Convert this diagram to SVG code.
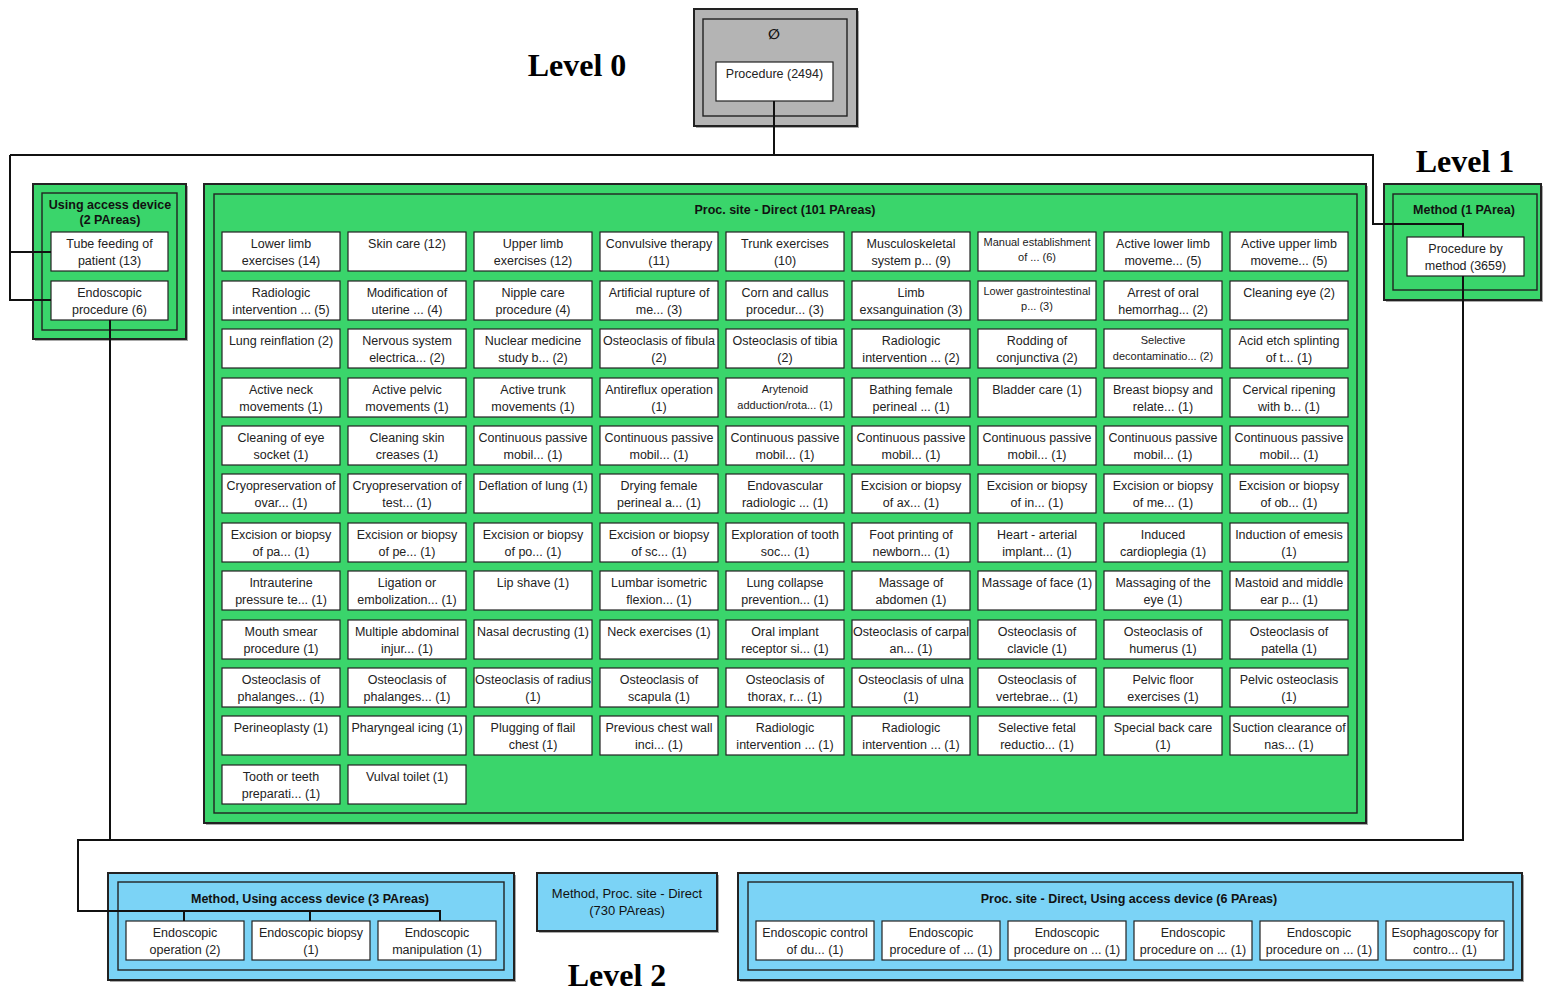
<svg xmlns="http://www.w3.org/2000/svg" width="1543" height="992" viewBox="0 0 1543 992">
<style>
  .bg{fill:#ffffff}
  .shadow{fill:#a9a9a9}
  .gray{fill:#b4b4b4;stroke:#222;stroke-width:2}
  .green{fill:#3ad56b;stroke:#222;stroke-width:2}
  .blue{fill:#7bd3f6;stroke:#222;stroke-width:2}
  .inner{fill:none;stroke:#222;stroke-width:1.4}
  .node rect{fill:#fff;stroke:#222;stroke-width:1.2}
  .node text{font-family:"Liberation Sans",Arial,sans-serif;font-size:12.5px;fill:#222;text-anchor:middle}
  .node text.s{font-size:11px}
  .ttl{font-family:"Liberation Sans",Arial,sans-serif;font-size:12.5px;font-weight:bold;fill:#111;text-anchor:middle}
  .plain{font-family:"Liberation Sans",Arial,sans-serif;font-size:13px;fill:#111;text-anchor:middle}
  .sym{font-family:"DejaVu Sans",sans-serif;font-size:14px;font-weight:bold;fill:#111;text-anchor:middle}
  .lvl{font-family:"Liberation Serif","Times New Roman",serif;font-size:32px;font-weight:bold;fill:#000;text-anchor:middle}
  .wire{fill:none;stroke:#111;stroke-width:2}
</style>
<rect class="bg" x="0" y="0" width="1543" height="992"/>

<!-- level captions -->
<text class="lvl" x="577" y="76">Level 0</text>
<text class="lvl" x="1465" y="172">Level 1</text>
<text class="lvl" x="617" y="986">Level 2</text>

<!-- Level 0: root area -->
<g id="root-area">
  <rect class="shadow" x="696" y="11" width="163" height="117"/>
  <rect class="gray" x="694" y="9" width="163" height="117"/>
  <rect class="inner" x="703" y="19" width="144" height="97"/>
  <text class="sym" x="774" y="39">∅</text>
  <g class="node" id="n-procedure"><rect x="716" y="62" width="117" height="39"/><text x="774.5" y="78">Procedure (2494)</text></g>
</g>

<!-- Level 1: Using access device -->
<g id="area-access">
  <rect class="shadow" x="35" y="186" width="153" height="155"/>
  <rect class="green" x="33" y="184" width="153" height="155"/>
  <rect class="inner" x="42" y="193" width="135" height="137"/>
  <text class="ttl" x="110" y="209">Using access device</text>
  <text class="ttl" x="110" y="224">(2 PAreas)</text>
  <g class="node" id="n-tube-feeding"><rect x="51" y="232" width="117" height="39"/><text x="109.5" y="248">Tube feeding of<tspan x="109.5" dy="16.5">patient (13)</tspan></text></g>
  <g class="node" id="n-endoscopic-procedure"><rect x="51" y="281" width="117" height="39"/><text x="109.5" y="297">Endoscopic<tspan x="109.5" dy="16.5">procedure (6)</tspan></text></g>
</g>

<!-- Level 1: Method -->
<g id="area-method">
  <rect class="shadow" x="1386" y="186" width="157" height="116"/>
  <rect class="green" x="1384" y="184" width="157" height="116"/>
  <rect class="inner" x="1393" y="194" width="144" height="96"/>
  <text class="ttl" x="1464" y="214">Method (1 PArea)</text>
  <g class="node" id="n-procedure-by-method"><rect x="1407" y="237" width="117" height="39"/><text x="1465.5" y="253">Procedure by<tspan x="1465.5" dy="16.5">method (3659)</tspan></text></g>
</g>

<!-- Level 1: Proc. site - Direct -->
<g id="area-site">
  <rect class="shadow" x="206" y="186" width="1162" height="639"/>
  <rect class="green" x="204" y="184" width="1162" height="639"/>
  <rect class="inner" x="214" y="194" width="1143" height="619"/>
  <text class="ttl" x="785" y="214">Proc. site - Direct (101 PAreas)</text>

  <!-- row 1 -->
  <g class="node" id="s1"><rect x="222" y="232" width="118" height="39"/><text x="281" y="248">Lower limb<tspan x="281" dy="16.5">exercises (14)</tspan></text></g>
  <g class="node" id="s2"><rect x="348" y="232" width="118" height="39"/><text x="407" y="248">Skin care (12)</text></g>
  <g class="node" id="s3"><rect x="474" y="232" width="118" height="39"/><text x="533" y="248">Upper limb<tspan x="533" dy="16.5">exercises (12)</tspan></text></g>
  <g class="node" id="s4"><rect x="600" y="232" width="118" height="39"/><text x="659" y="248">Convulsive therapy<tspan x="659" dy="16.5">(11)</tspan></text></g>
  <g class="node" id="s5"><rect x="726" y="232" width="118" height="39"/><text x="785" y="248">Trunk exercises<tspan x="785" dy="16.5">(10)</tspan></text></g>
  <g class="node" id="s6"><rect x="852" y="232" width="118" height="39"/><text x="911" y="248">Musculoskeletal<tspan x="911" dy="16.5">system p... (9)</tspan></text></g>
  <g class="node" id="s7"><rect x="978" y="232" width="118" height="39"/><text class="s" x="1037" y="246">Manual establishment<tspan x="1037" dy="15">of ... (6)</tspan></text></g>
  <g class="node" id="s8"><rect x="1104" y="232" width="118" height="39"/><text x="1163" y="248">Active lower limb<tspan x="1163" dy="16.5">moveme... (5)</tspan></text></g>
  <g class="node" id="s9"><rect x="1230" y="232" width="118" height="39"/><text x="1289" y="248">Active upper limb<tspan x="1289" dy="16.5">moveme... (5)</tspan></text></g>

  <!-- row 2 -->
  <g class="node" id="s10"><rect x="222" y="281" width="118" height="39"/><text x="281" y="297">Radiologic<tspan x="281" dy="16.5">intervention ... (5)</tspan></text></g>
  <g class="node" id="s11"><rect x="348" y="281" width="118" height="39"/><text x="407" y="297">Modification of<tspan x="407" dy="16.5">uterine ... (4)</tspan></text></g>
  <g class="node" id="s12"><rect x="474" y="281" width="118" height="39"/><text x="533" y="297">Nipple care<tspan x="533" dy="16.5">procedure (4)</tspan></text></g>
  <g class="node" id="s13"><rect x="600" y="281" width="118" height="39"/><text x="659" y="297">Artificial rupture of<tspan x="659" dy="16.5">me... (3)</tspan></text></g>
  <g class="node" id="s14"><rect x="726" y="281" width="118" height="39"/><text x="785" y="297">Corn and callus<tspan x="785" dy="16.5">procedur... (3)</tspan></text></g>
  <g class="node" id="s15"><rect x="852" y="281" width="118" height="39"/><text x="911" y="297">Limb<tspan x="911" dy="16.5">exsanguination (3)</tspan></text></g>
  <g class="node" id="s16"><rect x="978" y="281" width="118" height="39"/><text class="s" x="1037" y="295">Lower gastrointestinal<tspan x="1037" dy="15">p... (3)</tspan></text></g>
  <g class="node" id="s17"><rect x="1104" y="281" width="118" height="39"/><text x="1163" y="297">Arrest of oral<tspan x="1163" dy="16.5">hemorrhag... (2)</tspan></text></g>
  <g class="node" id="s18"><rect x="1230" y="281" width="118" height="39"/><text x="1289" y="297">Cleaning eye (2)</text></g>

  <!-- row 3 -->
  <g class="node" id="s19"><rect x="222" y="329" width="118" height="39"/><text x="281" y="345">Lung reinflation (2)</text></g>
  <g class="node" id="s20"><rect x="348" y="329" width="118" height="39"/><text x="407" y="345">Nervous system<tspan x="407" dy="16.5">electrica... (2)</tspan></text></g>
  <g class="node" id="s21"><rect x="474" y="329" width="118" height="39"/><text x="533" y="345">Nuclear medicine<tspan x="533" dy="16.5">study b... (2)</tspan></text></g>
  <g class="node" id="s22"><rect x="600" y="329" width="118" height="39"/><text x="659" y="345">Osteoclasis of fibula<tspan x="659" dy="16.5">(2)</tspan></text></g>
  <g class="node" id="s23"><rect x="726" y="329" width="118" height="39"/><text x="785" y="345">Osteoclasis of tibia<tspan x="785" dy="16.5">(2)</tspan></text></g>
  <g class="node" id="s24"><rect x="852" y="329" width="118" height="39"/><text x="911" y="345">Radiologic<tspan x="911" dy="16.5">intervention ... (2)</tspan></text></g>
  <g class="node" id="s25"><rect x="978" y="329" width="118" height="39"/><text x="1037" y="345">Rodding of<tspan x="1037" dy="16.5">conjunctiva (2)</tspan></text></g>
  <g class="node" id="s26"><rect x="1104" y="329" width="118" height="39"/><text class="s" x="1163" y="344">Selective<tspan x="1163" dy="15.5">decontaminatio... (2)</tspan></text></g>
  <g class="node" id="s27"><rect x="1230" y="329" width="118" height="39"/><text x="1289" y="345">Acid etch splinting<tspan x="1289" dy="16.5">of t... (1)</tspan></text></g>

  <!-- row 4 -->
  <g class="node" id="s28"><rect x="222" y="378" width="118" height="39"/><text x="281" y="394">Active neck<tspan x="281" dy="16.5">movements (1)</tspan></text></g>
  <g class="node" id="s29"><rect x="348" y="378" width="118" height="39"/><text x="407" y="394">Active pelvic<tspan x="407" dy="16.5">movements (1)</tspan></text></g>
  <g class="node" id="s30"><rect x="474" y="378" width="118" height="39"/><text x="533" y="394">Active trunk<tspan x="533" dy="16.5">movements (1)</tspan></text></g>
  <g class="node" id="s31"><rect x="600" y="378" width="118" height="39"/><text x="659" y="394">Antireflux operation<tspan x="659" dy="16.5">(1)</tspan></text></g>
  <g class="node" id="s32"><rect x="726" y="378" width="118" height="39"/><text class="s" x="785" y="393">Arytenoid<tspan x="785" dy="15.5">adduction/rota... (1)</tspan></text></g>
  <g class="node" id="s33"><rect x="852" y="378" width="118" height="39"/><text x="911" y="394">Bathing female<tspan x="911" dy="16.5">perineal ... (1)</tspan></text></g>
  <g class="node" id="s34"><rect x="978" y="378" width="118" height="39"/><text x="1037" y="394">Bladder care (1)</text></g>
  <g class="node" id="s35"><rect x="1104" y="378" width="118" height="39"/><text x="1163" y="394">Breast biopsy and<tspan x="1163" dy="16.5">relate... (1)</tspan></text></g>
  <g class="node" id="s36"><rect x="1230" y="378" width="118" height="39"/><text x="1289" y="394">Cervical ripening<tspan x="1289" dy="16.5">with b... (1)</tspan></text></g>

  <!-- row 5 -->
  <g class="node" id="s37"><rect x="222" y="426" width="118" height="39"/><text x="281" y="442">Cleaning of eye<tspan x="281" dy="16.5">socket (1)</tspan></text></g>
  <g class="node" id="s38"><rect x="348" y="426" width="118" height="39"/><text x="407" y="442">Cleaning skin<tspan x="407" dy="16.5">creases (1)</tspan></text></g>
  <g class="node" id="s39"><rect x="474" y="426" width="118" height="39"/><text x="533" y="442">Continuous passive<tspan x="533" dy="16.5">mobil... (1)</tspan></text></g>
  <g class="node" id="s40"><rect x="600" y="426" width="118" height="39"/><text x="659" y="442">Continuous passive<tspan x="659" dy="16.5">mobil... (1)</tspan></text></g>
  <g class="node" id="s41"><rect x="726" y="426" width="118" height="39"/><text x="785" y="442">Continuous passive<tspan x="785" dy="16.5">mobil... (1)</tspan></text></g>
  <g class="node" id="s42"><rect x="852" y="426" width="118" height="39"/><text x="911" y="442">Continuous passive<tspan x="911" dy="16.5">mobil... (1)</tspan></text></g>
  <g class="node" id="s43"><rect x="978" y="426" width="118" height="39"/><text x="1037" y="442">Continuous passive<tspan x="1037" dy="16.5">mobil... (1)</tspan></text></g>
  <g class="node" id="s44"><rect x="1104" y="426" width="118" height="39"/><text x="1163" y="442">Continuous passive<tspan x="1163" dy="16.5">mobil... (1)</tspan></text></g>
  <g class="node" id="s45"><rect x="1230" y="426" width="118" height="39"/><text x="1289" y="442">Continuous passive<tspan x="1289" dy="16.5">mobil... (1)</tspan></text></g>

  <!-- row 6 -->
  <g class="node" id="s46"><rect x="222" y="474" width="118" height="39"/><text x="281" y="490">Cryopreservation of<tspan x="281" dy="16.5">ovar... (1)</tspan></text></g>
  <g class="node" id="s47"><rect x="348" y="474" width="118" height="39"/><text x="407" y="490">Cryopreservation of<tspan x="407" dy="16.5">test... (1)</tspan></text></g>
  <g class="node" id="s48"><rect x="474" y="474" width="118" height="39"/><text x="533" y="490">Deflation of lung (1)</text></g>
  <g class="node" id="s49"><rect x="600" y="474" width="118" height="39"/><text x="659" y="490">Drying female<tspan x="659" dy="16.5">perineal a... (1)</tspan></text></g>
  <g class="node" id="s50"><rect x="726" y="474" width="118" height="39"/><text x="785" y="490">Endovascular<tspan x="785" dy="16.5">radiologic ... (1)</tspan></text></g>
  <g class="node" id="s51"><rect x="852" y="474" width="118" height="39"/><text x="911" y="490">Excision or biopsy<tspan x="911" dy="16.5">of ax... (1)</tspan></text></g>
  <g class="node" id="s52"><rect x="978" y="474" width="118" height="39"/><text x="1037" y="490">Excision or biopsy<tspan x="1037" dy="16.5">of in... (1)</tspan></text></g>
  <g class="node" id="s53"><rect x="1104" y="474" width="118" height="39"/><text x="1163" y="490">Excision or biopsy<tspan x="1163" dy="16.5">of me... (1)</tspan></text></g>
  <g class="node" id="s54"><rect x="1230" y="474" width="118" height="39"/><text x="1289" y="490">Excision or biopsy<tspan x="1289" dy="16.5">of ob... (1)</tspan></text></g>

  <!-- row 7 -->
  <g class="node" id="s55"><rect x="222" y="523" width="118" height="39"/><text x="281" y="539">Excision or biopsy<tspan x="281" dy="16.5">of pa... (1)</tspan></text></g>
  <g class="node" id="s56"><rect x="348" y="523" width="118" height="39"/><text x="407" y="539">Excision or biopsy<tspan x="407" dy="16.5">of pe... (1)</tspan></text></g>
  <g class="node" id="s57"><rect x="474" y="523" width="118" height="39"/><text x="533" y="539">Excision or biopsy<tspan x="533" dy="16.5">of po... (1)</tspan></text></g>
  <g class="node" id="s58"><rect x="600" y="523" width="118" height="39"/><text x="659" y="539">Excision or biopsy<tspan x="659" dy="16.5">of sc... (1)</tspan></text></g>
  <g class="node" id="s59"><rect x="726" y="523" width="118" height="39"/><text x="785" y="539">Exploration of tooth<tspan x="785" dy="16.5">soc... (1)</tspan></text></g>
  <g class="node" id="s60"><rect x="852" y="523" width="118" height="39"/><text x="911" y="539">Foot printing of<tspan x="911" dy="16.5">newborn... (1)</tspan></text></g>
  <g class="node" id="s61"><rect x="978" y="523" width="118" height="39"/><text x="1037" y="539">Heart - arterial<tspan x="1037" dy="16.5">implant... (1)</tspan></text></g>
  <g class="node" id="s62"><rect x="1104" y="523" width="118" height="39"/><text x="1163" y="539">Induced<tspan x="1163" dy="16.5">cardioplegia (1)</tspan></text></g>
  <g class="node" id="s63"><rect x="1230" y="523" width="118" height="39"/><text x="1289" y="539">Induction of emesis<tspan x="1289" dy="16.5">(1)</tspan></text></g>

  <!-- row 8 -->
  <g class="node" id="s64"><rect x="222" y="571" width="118" height="39"/><text x="281" y="587">Intrauterine<tspan x="281" dy="16.5">pressure te... (1)</tspan></text></g>
  <g class="node" id="s65"><rect x="348" y="571" width="118" height="39"/><text x="407" y="587">Ligation or<tspan x="407" dy="16.5">embolization... (1)</tspan></text></g>
  <g class="node" id="s66"><rect x="474" y="571" width="118" height="39"/><text x="533" y="587">Lip shave (1)</text></g>
  <g class="node" id="s67"><rect x="600" y="571" width="118" height="39"/><text x="659" y="587">Lumbar isometric<tspan x="659" dy="16.5">flexion... (1)</tspan></text></g>
  <g class="node" id="s68"><rect x="726" y="571" width="118" height="39"/><text x="785" y="587">Lung collapse<tspan x="785" dy="16.5">prevention... (1)</tspan></text></g>
  <g class="node" id="s69"><rect x="852" y="571" width="118" height="39"/><text x="911" y="587">Massage of<tspan x="911" dy="16.5">abdomen (1)</tspan></text></g>
  <g class="node" id="s70"><rect x="978" y="571" width="118" height="39"/><text x="1037" y="587">Massage of face (1)</text></g>
  <g class="node" id="s71"><rect x="1104" y="571" width="118" height="39"/><text x="1163" y="587">Massaging of the<tspan x="1163" dy="16.5">eye (1)</tspan></text></g>
  <g class="node" id="s72"><rect x="1230" y="571" width="118" height="39"/><text x="1289" y="587">Mastoid and middle<tspan x="1289" dy="16.5">ear p... (1)</tspan></text></g>

  <!-- row 9 -->
  <g class="node" id="s73"><rect x="222" y="620" width="118" height="39"/><text x="281" y="636">Mouth smear<tspan x="281" dy="16.5">procedure (1)</tspan></text></g>
  <g class="node" id="s74"><rect x="348" y="620" width="118" height="39"/><text x="407" y="636">Multiple abdominal<tspan x="407" dy="16.5">injur... (1)</tspan></text></g>
  <g class="node" id="s75"><rect x="474" y="620" width="118" height="39"/><text x="533" y="636">Nasal decrusting (1)</text></g>
  <g class="node" id="s76"><rect x="600" y="620" width="118" height="39"/><text x="659" y="636">Neck exercises (1)</text></g>
  <g class="node" id="s77"><rect x="726" y="620" width="118" height="39"/><text x="785" y="636">Oral implant<tspan x="785" dy="16.5">receptor si... (1)</tspan></text></g>
  <g class="node" id="s78"><rect x="852" y="620" width="118" height="39"/><text x="911" y="636">Osteoclasis of carpal<tspan x="911" dy="16.5">an... (1)</tspan></text></g>
  <g class="node" id="s79"><rect x="978" y="620" width="118" height="39"/><text x="1037" y="636">Osteoclasis of<tspan x="1037" dy="16.5">clavicle (1)</tspan></text></g>
  <g class="node" id="s80"><rect x="1104" y="620" width="118" height="39"/><text x="1163" y="636">Osteoclasis of<tspan x="1163" dy="16.5">humerus (1)</tspan></text></g>
  <g class="node" id="s81"><rect x="1230" y="620" width="118" height="39"/><text x="1289" y="636">Osteoclasis of<tspan x="1289" dy="16.5">patella (1)</tspan></text></g>

  <!-- row 10 -->
  <g class="node" id="s82"><rect x="222" y="668" width="118" height="39"/><text x="281" y="684">Osteoclasis of<tspan x="281" dy="16.5">phalanges... (1)</tspan></text></g>
  <g class="node" id="s83"><rect x="348" y="668" width="118" height="39"/><text x="407" y="684">Osteoclasis of<tspan x="407" dy="16.5">phalanges... (1)</tspan></text></g>
  <g class="node" id="s84"><rect x="474" y="668" width="118" height="39"/><text x="533" y="684">Osteoclasis of radius<tspan x="533" dy="16.5">(1)</tspan></text></g>
  <g class="node" id="s85"><rect x="600" y="668" width="118" height="39"/><text x="659" y="684">Osteoclasis of<tspan x="659" dy="16.5">scapula (1)</tspan></text></g>
  <g class="node" id="s86"><rect x="726" y="668" width="118" height="39"/><text x="785" y="684">Osteoclasis of<tspan x="785" dy="16.5">thorax, r... (1)</tspan></text></g>
  <g class="node" id="s87"><rect x="852" y="668" width="118" height="39"/><text x="911" y="684">Osteoclasis of ulna<tspan x="911" dy="16.5">(1)</tspan></text></g>
  <g class="node" id="s88"><rect x="978" y="668" width="118" height="39"/><text x="1037" y="684">Osteoclasis of<tspan x="1037" dy="16.5">vertebrae... (1)</tspan></text></g>
  <g class="node" id="s89"><rect x="1104" y="668" width="118" height="39"/><text x="1163" y="684">Pelvic floor<tspan x="1163" dy="16.5">exercises (1)</tspan></text></g>
  <g class="node" id="s90"><rect x="1230" y="668" width="118" height="39"/><text x="1289" y="684">Pelvic osteoclasis<tspan x="1289" dy="16.5">(1)</tspan></text></g>

  <!-- row 11 -->
  <g class="node" id="s91"><rect x="222" y="716" width="118" height="39"/><text x="281" y="732">Perineoplasty (1)</text></g>
  <g class="node" id="s92"><rect x="348" y="716" width="118" height="39"/><text x="407" y="732">Pharyngeal icing (1)</text></g>
  <g class="node" id="s93"><rect x="474" y="716" width="118" height="39"/><text x="533" y="732">Plugging of flail<tspan x="533" dy="16.5">chest (1)</tspan></text></g>
  <g class="node" id="s94"><rect x="600" y="716" width="118" height="39"/><text x="659" y="732">Previous chest wall<tspan x="659" dy="16.5">inci... (1)</tspan></text></g>
  <g class="node" id="s95"><rect x="726" y="716" width="118" height="39"/><text x="785" y="732">Radiologic<tspan x="785" dy="16.5">intervention ... (1)</tspan></text></g>
  <g class="node" id="s96"><rect x="852" y="716" width="118" height="39"/><text x="911" y="732">Radiologic<tspan x="911" dy="16.5">intervention ... (1)</tspan></text></g>
  <g class="node" id="s97"><rect x="978" y="716" width="118" height="39"/><text x="1037" y="732">Selective fetal<tspan x="1037" dy="16.5">reductio... (1)</tspan></text></g>
  <g class="node" id="s98"><rect x="1104" y="716" width="118" height="39"/><text x="1163" y="732">Special back care<tspan x="1163" dy="16.5">(1)</tspan></text></g>
  <g class="node" id="s99"><rect x="1230" y="716" width="118" height="39"/><text x="1289" y="732">Suction clearance of<tspan x="1289" dy="16.5">nas... (1)</tspan></text></g>

  <!-- row 12 -->
  <g class="node" id="s100"><rect x="222" y="765" width="118" height="39"/><text x="281" y="781">Tooth or teeth<tspan x="281" dy="16.5">preparati... (1)</tspan></text></g>
  <g class="node" id="s101"><rect x="348" y="765" width="118" height="39"/><text x="407" y="781">Vulval toilet (1)</text></g>
</g>

<!-- Level 2: Method, Using access device -->
<g id="area-method-access">
  <rect class="shadow" x="110" y="875" width="406" height="107"/>
  <rect class="blue" x="108" y="873" width="406" height="107"/>
  <rect class="inner" x="118" y="882" width="386" height="88"/>
  <text class="ttl" x="310" y="903">Method, Using access device (3 PAreas)</text>
  <g class="node" id="m1"><rect x="126" y="921" width="118" height="39"/><text x="185" y="937">Endoscopic<tspan x="185" dy="16.5">operation (2)</tspan></text></g>
  <g class="node" id="m2"><rect x="252" y="921" width="118" height="39"/><text x="311" y="937">Endoscopic biopsy<tspan x="311" dy="16.5">(1)</tspan></text></g>
  <g class="node" id="m3"><rect x="378" y="921" width="118" height="39"/><text x="437" y="937">Endoscopic<tspan x="437" dy="16.5">manipulation (1)</tspan></text></g>
</g>

<!-- Level 2: Method, Proc. site - Direct -->
<g id="area-method-site">
  <rect class="shadow" x="539" y="875" width="180" height="58"/>
  <rect class="blue" x="537" y="873" width="180" height="58"/>
  <text class="plain" x="627" y="898">Method, Proc. site - Direct</text>
  <text class="plain" x="627" y="915">(730 PAreas)</text>
</g>

<!-- Level 2: Proc. site - Direct, Using access device -->
<g id="area-site-access">
  <rect class="shadow" x="740" y="875" width="784" height="107"/>
  <rect class="blue" x="738" y="873" width="784" height="107"/>
  <rect class="inner" x="748" y="882" width="765" height="88"/>
  <text class="ttl" x="1129" y="903">Proc. site - Direct, Using access device (6 PAreas)</text>
  <g class="node" id="d1"><rect x="756" y="921" width="118" height="39"/><text x="815" y="937">Endoscopic control<tspan x="815" dy="16.5">of du... (1)</tspan></text></g>
  <g class="node" id="d2"><rect x="882" y="921" width="118" height="39"/><text x="941" y="937">Endoscopic<tspan x="941" dy="16.5">procedure of ... (1)</tspan></text></g>
  <g class="node" id="d3"><rect x="1008" y="921" width="118" height="39"/><text x="1067" y="937">Endoscopic<tspan x="1067" dy="16.5">procedure on ... (1)</tspan></text></g>
  <g class="node" id="d4"><rect x="1134" y="921" width="118" height="39"/><text x="1193" y="937">Endoscopic<tspan x="1193" dy="16.5">procedure on ... (1)</tspan></text></g>
  <g class="node" id="d5"><rect x="1260" y="921" width="118" height="39"/><text x="1319" y="937">Endoscopic<tspan x="1319" dy="16.5">procedure on ... (1)</tspan></text></g>
  <g class="node" id="d6"><rect x="1386" y="921" width="118" height="39"/><text x="1445" y="937">Esophagoscopy for<tspan x="1445" dy="16.5">contro... (1)</tspan></text></g>
</g>

<!-- connectors between levels -->
<g id="connectors" class="wire">
  <path d="M774,101 V155"/>
  <path d="M10,155 H1373 V224 H1463 V237"/>
  <path d="M10,155 V300 H51"/>
  <path d="M10,252 H51"/>
  <path d="M110,320 V840"/>
  <path d="M1463,276 V840 H78 V911 H440 V921"/>
  <path d="M184,911 V921"/>
  <path d="M310,911 V921"/>
</g>
</svg>
